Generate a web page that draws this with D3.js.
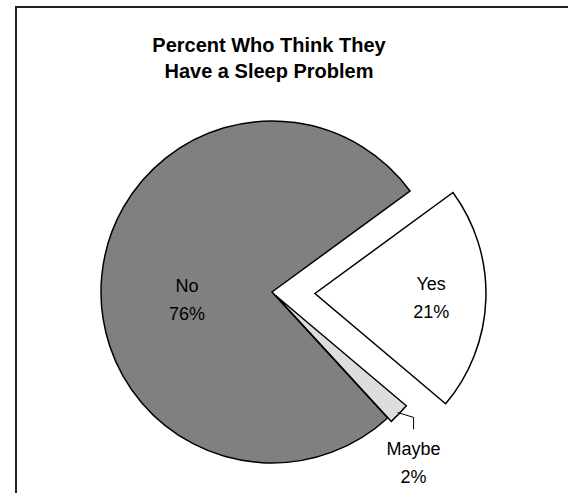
<!DOCTYPE html>
<html>
<head>
<meta charset="utf-8">
<script src="https://cdn.jsdelivr.net/npm/d3@7"></script>
<style>
  body { margin: 0; background: #fff; }
  text { font-family: "Liberation Sans", Arial, sans-serif; }
</style>
</head>
<body>
<svg id="chart" width="568" height="493"></svg>
<script>
var svg = d3.select('#chart');

// data
var categories = ['Yes', 'Maybe', 'No'];
var percents = [21, 2, 76];
var titleLines = ['Percent Who Think They', 'Have a Sleep Problem'];

var svgWidth = +svg.attr('width');
var svgHeight = +svg.attr('height');

// outer frame (runs off the right and bottom of the window)
svg.append('rect')
    .attr('x', 16).attr('y', 7)
    .attr('width', svgWidth + 20).attr('height', svgHeight + 20)
    .attr('fill', '#fff')
    .attr('stroke', '#222')
    .attr('stroke-width', 2);

var titleG = svg.append('text')
    .attr('text-anchor', 'middle')
    .attr('font-weight', 'bold')
    .attr('font-size', 20);
titleG.selectAll('tspan')
    .data(titleLines)
    .enter()
    .append('tspan')
    .attr('x', 269)
    .attr('y', function(d, i) { return 52 + i * 26; })
    .text(function(d) { return d; });

var cx = 272, cy = 292, radius = 171;
var fills = {Yes: '#ffffff', Maybe: '#dddddd', No: '#808080'};
var explodeBy = {Yes: 43, Maybe: 5, No: 0};
var labelAt = {Yes: 0.68, No: 0.5};
var labelDy = {Yes: -4, No: 12};

var start = 53.8 * Math.PI / 180;
var pie = d3.pie().sort(null).value(function(d) { return d.value; })
    .startAngle(start).endAngle(start + 2 * Math.PI);

var slices = pie(categories.map(function(c, i) { return {name: c, value: percents[i]}; }));

var arc = d3.arc().innerRadius(0).outerRadius(radius);

function mid(d) { return (d.startAngle + d.endAngle) / 2; }
function shift(d) {
    var k = explodeBy[d.data.name], a = mid(d);
    return [k * Math.sin(a), -k * Math.cos(a)];
}

var pieG = svg.append('g').attr('transform', 'translate(' + cx + ',' + cy + ')');

pieG.selectAll('path.slice')
    .data(slices)
    .enter()
    .append('path')
    .attr('class', 'slice')
    .attr('transform', function(d) { var s = shift(d); return 'translate(' + s[0] + ',' + s[1] + ')'; })
    .attr('d', arc)
    .attr('fill', function(d) { return fills[d.data.name]; })
    .attr('stroke', '#000')
    .attr('stroke-width', 1.5)
    .attr('stroke-linejoin', 'miter');

// inside labels
pieG.selectAll('text.inside')
    .data(slices.filter(function(d) { return labelAt[d.data.name]; }))
    .enter()
    .append('text')
    .attr('class', 'inside')
    .attr('text-anchor', 'middle')
    .attr('font-size', 18)
    .attr('fill', '#000')
    .each(function(d) {
        var s = shift(d), a = mid(d), r = radius * labelAt[d.data.name];
        var x = s[0] + r * Math.sin(a), y = s[1] - r * Math.cos(a) + labelDy[d.data.name];
        var t = d3.select(this);
        t.append('tspan').attr('x', x).attr('y', y - 4).text(d.data.name);
        t.append('tspan').attr('x', x).attr('y', y + 24).text(d.data.value + '%');
    });

// outside label with leader line for the thin slice
var thin = slices.filter(function(d) { return !labelAt[d.data.name]; });
thin.forEach(function(d) {
    var s = shift(d), a = mid(d);
    var p0 = [s[0] + (radius - 2) * Math.sin(a), s[1] - (radius - 2) * Math.cos(a)];
    var p1 = [p0[0] + 16, p0[1] + 5];
    var p2 = [p1[0], p1[1] + 12];
    pieG.append('path')
        .attr('d', d3.line()([p0, p1, p2]))
        .attr('fill', 'none')
        .attr('stroke', '#000')
        .attr('stroke-width', 1);
    var t = pieG.append('text')
        .attr('text-anchor', 'middle')
        .attr('font-size', 18);
    t.append('tspan').attr('x', p2[0]).attr('y', p2[1] + 26).text(d.data.name);
    t.append('tspan').attr('x', p2[0]).attr('y', p2[1] + 54).text(d.data.value + '%');
});
</script>
</body>
</html>
